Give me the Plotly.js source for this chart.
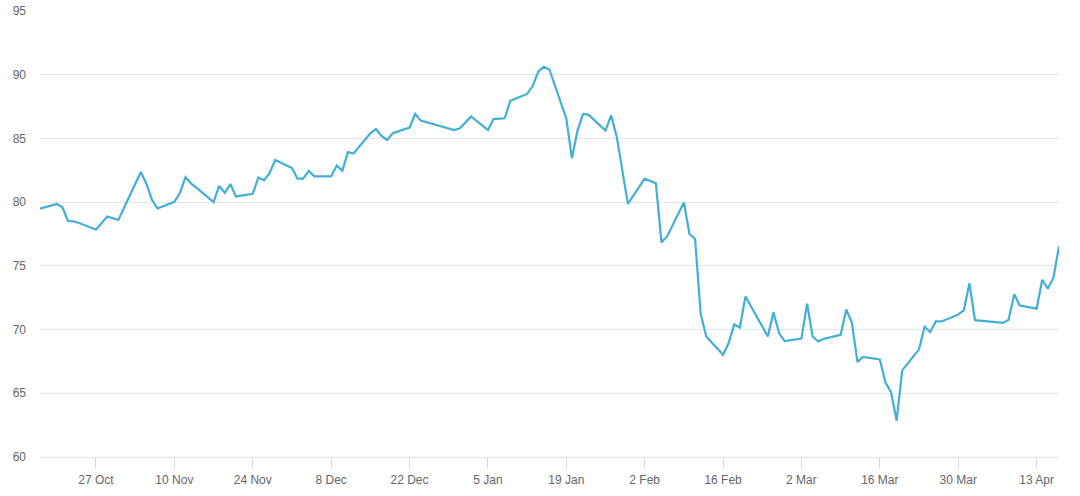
<!DOCTYPE html>
<html>
<head>
<meta charset="utf-8">
<script src="https://cdn.plot.ly/plotly-3.0.1.min.js"></script>
<style>
  html, body { margin: 0; padding: 0; background: #ffffff; }
  #chart { width: 1080px; height: 496px; }
</style>
</head>
<body>
<div id="chart"></div>
<script>
const dates = [
  '2014-10-17','2014-10-20','2014-10-21','2014-10-22','2014-10-23','2014-10-24',
  '2014-10-27','2014-10-29','2014-10-31',
  '2014-11-03','2014-11-04','2014-11-05','2014-11-06','2014-11-07',
  '2014-11-10','2014-11-11','2014-11-12','2014-11-13','2014-11-14',
  '2014-11-17','2014-11-18','2014-11-19','2014-11-20','2014-11-21',
  '2014-11-24','2014-11-25','2014-11-26','2014-11-27','2014-11-28',
  '2014-12-01','2014-12-02','2014-12-03','2014-12-04','2014-12-05',
  '2014-12-08','2014-12-09','2014-12-10','2014-12-11','2014-12-12',
  '2014-12-15','2014-12-16','2014-12-17','2014-12-18','2014-12-19',
  '2014-12-22','2014-12-23','2014-12-24','2014-12-30','2014-12-31',
  '2015-01-02','2015-01-05','2015-01-06','2015-01-07','2015-01-08','2015-01-09',
  '2015-01-12','2015-01-13','2015-01-14','2015-01-15','2015-01-16',
  '2015-01-19','2015-01-20','2015-01-21','2015-01-22','2015-01-23',
  '2015-01-26','2015-01-27','2015-01-28','2015-01-30',
  '2015-02-02','2015-02-04','2015-02-05','2015-02-06',
  '2015-02-09','2015-02-10','2015-02-11','2015-02-12','2015-02-13',
  '2015-02-16','2015-02-17','2015-02-18','2015-02-19','2015-02-20',
  '2015-02-24','2015-02-25','2015-02-26','2015-02-27',
  '2015-03-02','2015-03-03','2015-03-04','2015-03-05','2015-03-06',
  '2015-03-09','2015-03-10','2015-03-11','2015-03-12','2015-03-13',
  '2015-03-16','2015-03-17','2015-03-18','2015-03-19','2015-03-20',
  '2015-03-23','2015-03-24','2015-03-25','2015-03-26','2015-03-27',
  '2015-03-30','2015-03-31','2015-04-01','2015-04-02',
  '2015-04-07','2015-04-08','2015-04-09','2015-04-10',
  '2015-04-13','2015-04-14','2015-04-15','2015-04-16','2015-04-17'
];
const values = [
  79.49,79.85,79.60,78.52,78.49,78.36,
  77.84,78.87,78.60,
  81.40,82.37,81.45,80.19,79.50,
  80.02,80.74,81.96,81.45,81.12,
  80.01,81.27,80.72,81.42,80.45,
  80.66,81.93,81.71,82.28,83.30,
  82.68,81.84,81.84,82.45,82.02,
  82.02,82.88,82.47,83.93,83.82,
  85.40,85.73,85.19,84.88,85.41,
  85.85,86.92,86.40,85.66,85.80,
  86.72,85.66,86.52,86.55,86.58,87.95,
  88.49,89.11,90.25,90.62,90.39,
  86.57,83.45,85.61,86.92,86.85,
  85.61,86.81,85.16,79.86,
  81.84,81.48,76.85,77.31,
  79.97,77.50,77.11,71.23,69.46,
  68.02,68.94,70.40,70.16,72.59,
  69.46,71.35,69.73,69.10,
  69.30,72.03,69.46,69.06,69.27,
  69.58,71.58,70.56,67.46,67.85,
  67.66,65.86,65.09,62.85,66.80,
  68.45,70.22,69.81,70.64,70.64,
  71.17,71.51,73.63,70.74,
  70.52,70.76,72.77,71.88,
  71.64,73.91,73.20,74.05,76.53
];
const xTickVals = [
  '2014-10-27','2014-11-10','2014-11-24','2014-12-08','2014-12-22',
  '2015-01-05','2015-01-19','2015-02-02','2015-02-16','2015-03-02',
  '2015-03-16','2015-03-30','2015-04-13'
];
const xTickText = [
  '27 Oct','10 Nov','24 Nov','8 Dec','22 Dec',
  '5 Jan','19 Jan','2 Feb','16 Feb','2 Mar',
  '16 Mar','30 Mar','13 Apr'
];
const yTickVals = [60, 65, 70, 75, 80, 85, 90, 95];

const trace = {
  type: 'scatter',
  mode: 'lines',
  x: dates,
  y: values,
  line: { color: '#42afd6', width: 2.2 },
  hoverinfo: 'x+y'
};

const layout = {
  width: 1080,
  height: 496,
  margin: { l: 40, r: 21, t: 11, b: 39 },
  paper_bgcolor: '#ffffff',
  plot_bgcolor: '#ffffff',
  showlegend: false,
  font: { family: '"Liberation Sans", Arial, sans-serif', size: 12, color: '#666666' },
  xaxis: {
    type: 'date',
    range: ['2014-10-17', '2015-04-17'],
    tickvals: xTickVals,
    ticktext: xTickText,
    showgrid: false,
    zeroline: false,
    showline: true,
    linecolor: '#e3e3e3',
    linewidth: 1,
    ticks: 'outside',
    ticklen: 10,
    tickcolor: '#d8d8d8',
    tickwidth: 1,
    ticklabelstandoff: 2,
    tickfont: { size: 12, color: '#666666' }
  },
  yaxis: {
    range: [60, 95],
    tickvals: yTickVals,
    showgrid: true,
    gridcolor: '#e6e6e6',
    gridwidth: 1,
    zeroline: false,
    showline: false,
    ticks: '',
    ticklabelstandoff: 13,
    tickfont: { size: 12, color: '#666666' }
  }
};

Plotly.newPlot('chart', [trace], layout, { displayModeBar: false, staticPlot: true });
</script>
</body>
</html>
